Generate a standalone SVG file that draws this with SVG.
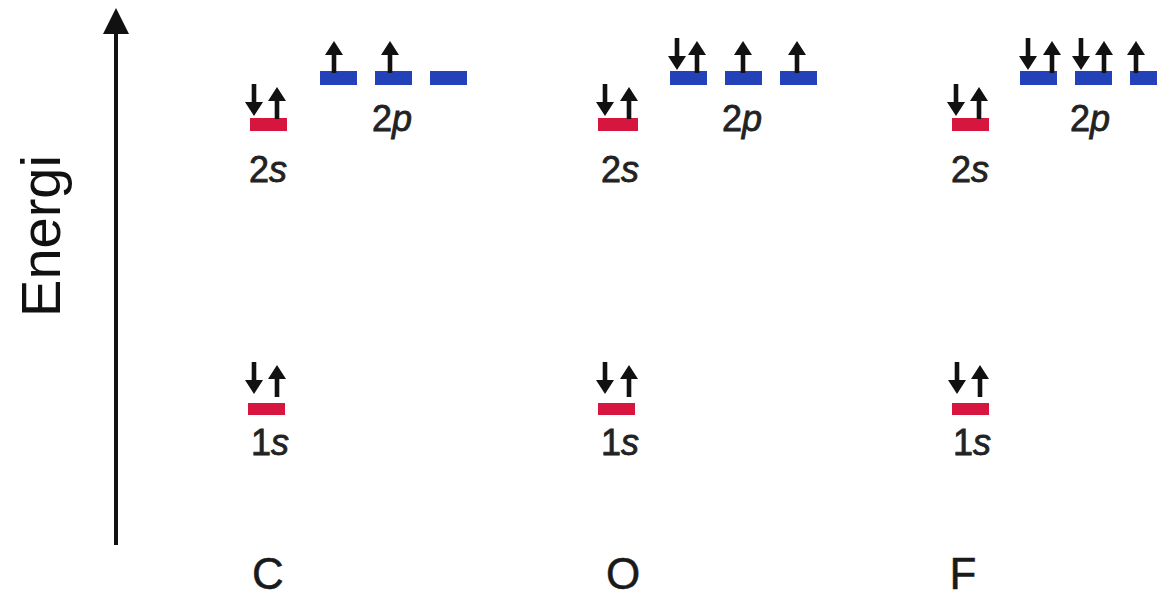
<svg xmlns="http://www.w3.org/2000/svg" xmlns:xlink="http://www.w3.org/1999/xlink" width="1157" height="598" viewBox="0 0 1157 598">
<style>
.s{fill:#d7163f}
.p{fill:#2341b8}
.e{fill:#111}
.lbl{font-family:"Liberation Sans",Arial,sans-serif;font-size:36px;fill:#222;stroke:#222;stroke-width:0.8px;text-anchor:middle}
.el{font-family:"Liberation Sans",Arial,sans-serif;font-size:44px;fill:#1a1a1a;stroke:#1a1a1a;stroke-width:0.5px;text-anchor:middle}
.ax{font-family:"Liberation Sans",Arial,sans-serif;font-size:56px;fill:#111;text-anchor:middle}
</style>
<defs>
<path id="up" d="M0,-16 L9,-2 L2.3,-2 L2.3,16 L-2.3,16 L-2.3,-2 L-9,-2 Z"/>
</defs>
<rect width="1157" height="598" fill="#fff"/>
<g id="axis">
<line x1="116" y1="545" x2="116" y2="30" stroke="#111" stroke-width="4"/>
<path d="M116,8 L129,34 L103,34 Z" fill="#111"/>
<text class="ax" transform="translate(60,236) rotate(-90)">Energi</text>
</g>
<g id="C">
<rect class="s" x="248" y="403" width="37" height="12"/>
<use href="#up" class="e" transform="translate(254,378) rotate(180)"/>
<use href="#up" class="e" transform="translate(277,381)"/>
<text class="lbl" x="270" y="455">1<tspan font-style="italic">s</tspan></text>
<rect class="s" x="250" y="118" width="37" height="13"/>
<use href="#up" class="e" transform="translate(254,100) rotate(180)"/>
<use href="#up" class="e" transform="translate(277,103)"/>
<text class="lbl" x="268" y="182">2<tspan font-style="italic">s</tspan></text>
<rect class="p" x="320" y="71" width="37" height="14"/>
<rect class="p" x="375" y="71" width="37" height="14"/>
<rect class="p" x="430" y="71" width="37" height="14"/>
<use href="#up" class="e" transform="translate(334,57)"/>
<use href="#up" class="e" transform="translate(390,57)"/>
<text class="lbl" x="392" y="131">2<tspan font-style="italic">p</tspan></text>
<text class="el" x="268" y="589">C</text>
</g>
<g id="O">
<rect class="s" x="598" y="403" width="37" height="12"/>
<use href="#up" class="e" transform="translate(605,378) rotate(180)"/>
<use href="#up" class="e" transform="translate(629,381)"/>
<text class="lbl" x="620" y="455">1<tspan font-style="italic">s</tspan></text>
<rect class="s" x="598" y="118" width="40" height="13"/>
<use href="#up" class="e" transform="translate(605,100) rotate(180)"/>
<use href="#up" class="e" transform="translate(629,103)"/>
<text class="lbl" x="620" y="182">2<tspan font-style="italic">s</tspan></text>
<rect class="p" x="670" y="71" width="37" height="14"/>
<rect class="p" x="725" y="71" width="37" height="14"/>
<rect class="p" x="780" y="71" width="37" height="14"/>
<use href="#up" class="e" transform="translate(677,54) rotate(180)"/>
<use href="#up" class="e" transform="translate(697,57)"/>
<use href="#up" class="e" transform="translate(743,57)"/>
<use href="#up" class="e" transform="translate(797,57)"/>
<text class="lbl" x="742" y="131">2<tspan font-style="italic">p</tspan></text>
<text class="el" x="623" y="589">O</text>
</g>
<g id="F">
<rect class="s" x="952" y="403" width="37" height="12"/>
<use href="#up" class="e" transform="translate(957,378) rotate(180)"/>
<use href="#up" class="e" transform="translate(980,381)"/>
<text class="lbl" x="972" y="455">1<tspan font-style="italic">s</tspan></text>
<rect class="s" x="952" y="118" width="37" height="13"/>
<use href="#up" class="e" transform="translate(956,100) rotate(180)"/>
<use href="#up" class="e" transform="translate(979,103)"/>
<text class="lbl" x="970" y="182">2<tspan font-style="italic">s</tspan></text>
<rect class="p" x="1020" y="71" width="37" height="14"/>
<rect class="p" x="1075" y="71" width="37" height="14"/>
<rect class="p" x="1130" y="71" width="37" height="14"/>
<use href="#up" class="e" transform="translate(1028,54) rotate(180)"/>
<use href="#up" class="e" transform="translate(1052,57)"/>
<use href="#up" class="e" transform="translate(1081,54) rotate(180)"/>
<use href="#up" class="e" transform="translate(1104,57)"/>
<use href="#up" class="e" transform="translate(1136,57)"/>
<text class="lbl" x="1090" y="131">2<tspan font-style="italic">p</tspan></text>
<text class="el" x="963" y="589">F</text>
</g>
</svg>
